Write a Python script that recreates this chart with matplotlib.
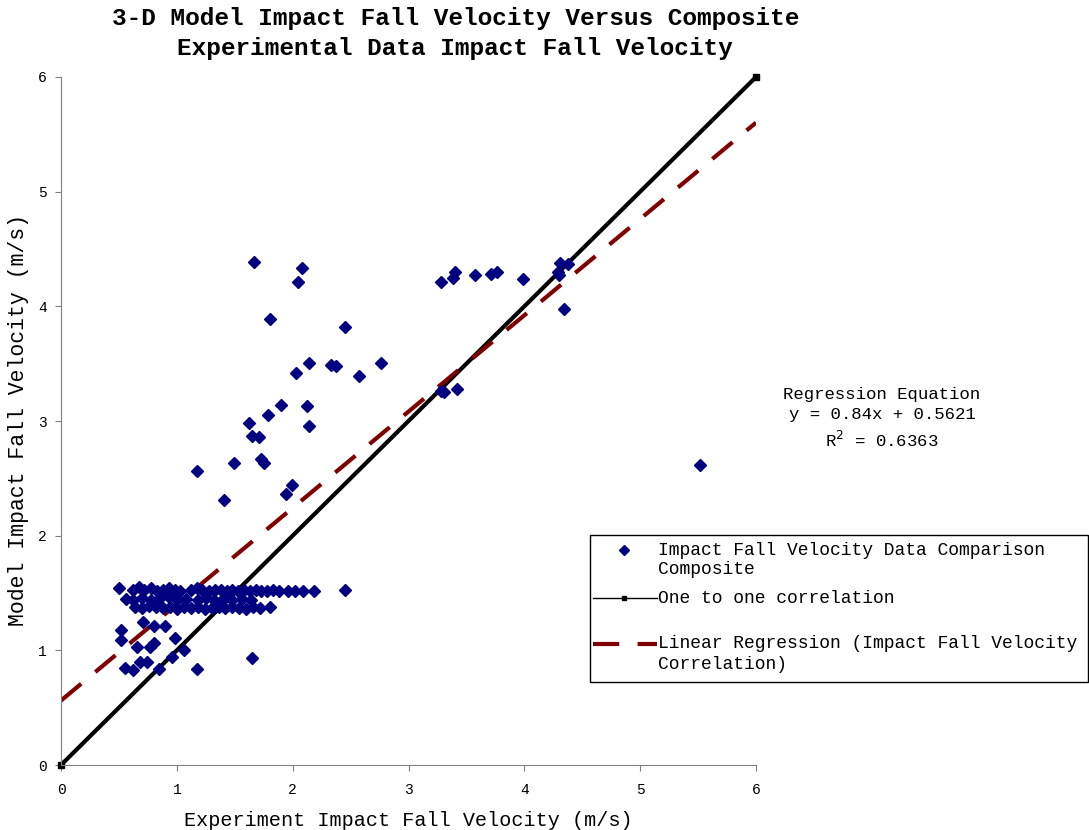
import matplotlib
matplotlib.use("Agg")
import matplotlib.pyplot as plt
from matplotlib.lines import Line2D
from matplotlib.patches import Rectangle

# --- data ---
# scattered points above the cluster
upper_x = [1.67, 2.08, 2.05, 1.80, 2.45, 2.14, 2.33, 2.37, 2.76, 2.03, 2.57,
           1.90, 2.12, 1.79, 1.62, 2.14, 1.65, 1.71, 1.73, 1.75, 1.49, 1.17,
           1.99, 1.94, 1.41]
upper_y = [4.39, 4.33, 4.21, 3.89, 3.82, 3.51, 3.49, 3.48, 3.51, 3.42, 3.39,
           3.14, 3.13, 3.05, 2.98, 2.96, 2.87, 2.86, 2.67, 2.63, 2.63, 2.56,
           2.44, 2.36, 2.31]

high_x = [3.28, 3.38, 3.40, 3.57, 3.71, 3.76, 3.99, 4.31, 4.38, 4.29, 4.30,
          4.34, 3.28, 3.31, 3.42, 5.52]
high_y = [4.21, 4.25, 4.30, 4.27, 4.28, 4.30, 4.24, 4.38, 4.37, 4.30, 4.27,
          3.98, 3.26, 3.25, 3.28, 2.62]

# the three dense rows near 1.4 - 1.55
rowa_x = [0.50, 0.62, 0.67, 0.72, 0.78, 0.83, 0.88, 0.93, 0.98, 1.03, 1.12,
          1.17, 1.22, 1.28, 1.33, 1.38, 1.43, 1.48, 1.53, 1.58, 1.63, 1.68,
          1.73, 1.78, 1.83, 1.88, 1.96, 2.02, 2.09, 2.18, 2.45]
rowa_y = [1.54, 1.53, 1.55, 1.53, 1.54, 1.52, 1.53, 1.54, 1.53, 1.52, 1.53,
          1.54, 1.53, 1.52, 1.53, 1.53, 1.52, 1.53, 1.52, 1.53, 1.52, 1.53,
          1.52, 1.52, 1.53, 1.52, 1.52, 1.52, 1.52, 1.52, 1.53]

rowb_x = [0.56, 0.62, 0.70, 0.78, 0.85, 0.92, 1.00, 1.08, 1.18, 1.25, 1.32,
          1.40, 1.48, 1.56, 1.64]
rowb_y = [1.45, 1.44, 1.46, 1.44, 1.45, 1.47, 1.44, 1.45, 1.44, 1.46, 1.44,
          1.45, 1.44, 1.45, 1.44]

rowc_x = [0.64, 0.70, 0.76, 0.82, 0.88, 0.94, 1.00, 1.06, 1.12, 1.18, 1.24,
          1.30, 1.36, 1.42, 1.48, 1.54, 1.60, 1.66, 1.72, 1.80]
rowc_y = [1.38, 1.37, 1.39, 1.38, 1.37, 1.38, 1.36, 1.38, 1.37, 1.38, 1.36,
          1.37, 1.38, 1.37, 1.38, 1.37, 1.36, 1.38, 1.37, 1.38]

# points below the cluster
low_x = [0.71, 0.80, 0.90, 0.52, 0.52, 0.98, 0.66, 0.77, 0.80, 1.06, 0.96,
         1.65, 0.55, 0.62, 0.68, 0.74, 0.85, 1.17]
low_y = [1.25, 1.21, 1.21, 1.18, 1.09, 1.11, 1.03, 1.03, 1.06, 1.00, 0.94,
         0.93, 0.85, 0.83, 0.90, 0.90, 0.84, 0.84]

pts_x = upper_x + high_x + rowa_x + rowb_x + rowc_x + low_x
pts_y = upper_y + high_y + rowa_y + rowb_y + rowc_y + low_y

one_x = [0, 6]
one_y = [0, 6]

slope = 0.84
intercept = 0.5621
reg_x = [0, 6]
reg_y = [intercept + slope * v for v in reg_x]

legend_labels = [["Impact Fall Velocity Data Comparison", "Composite"],
                 ["One to one correlation"],
                 ["Linear Regression (Impact Fall Velocity", "Correlation)"]]

plt.rcParams['font.family'] = ['Liberation Mono', 'DejaVu Sans Mono']

W, H = 1089, 830
fig = plt.figure(figsize=(W / 100, H / 100), dpi=100)
ax = fig.add_axes([61 / W, 1 - 765 / H, 695 / W, 688 / H])


def fx(px):
    return px / W


def fy(py):
    return 1 - py / H


ax.plot(pts_x, pts_y, linestyle='none', marker='D', ms=6.6,
        color='#000080', zorder=3)
ax.plot(one_x, one_y, color='black', lw=3, marker='s', ms=4,
        clip_on=False, zorder=2)
ax.plot(reg_x, reg_y, color='#800000', lw=3, dashes=(6.3, 4.4), zorder=2)

ax.set_xlim(0, 6)
ax.set_ylim(0, 6)
ax.set_xticks(range(7))
ax.set_yticks(range(7))
for s in ['top', 'right']:
    ax.spines[s].set_visible(False)
for s in ['left', 'bottom']:
    ax.spines[s].set_color('#808080')
ax.tick_params(colors='#808080', labelcolor='black', labelsize=10.5,
               length=4, direction='out')
ax.tick_params(axis='x', pad=9)
ax.tick_params(axis='y', pad=6)

ax.set_xlabel("Experiment Impact Fall Velocity (m/s)", fontsize=14.5, labelpad=10)
ax.set_ylabel("Model Impact Fall Velocity (m/s)", fontsize=15.5)
ax.yaxis.set_label_coords(fx(29), fy(420), transform=fig.transFigure)

fig.text(0.418, fy(18), "3-D Model Impact Fall Velocity Versus Composite",
         ha='center', va='center', fontsize=17.6, fontweight='bold')
fig.text(0.418, fy(48), "Experimental Data Impact Fall Velocity",
         ha='center', va='center', fontsize=17.6, fontweight='bold')

fig.text(fx(882), fy(394), "Regression Equation", ha='center', va='center',
         fontsize=12.5)
fig.text(fx(882), fy(414), "y = 0.84x + 0.5621", ha='center', va='center',
         fontsize=12.5)
fig.text(fx(882), fy(440), "R$^2$ = 0.6363", ha='center', va='center',
         fontsize=12.5, math_fontfamily='dejavusans')

# legend drawn by hand, Excel style (handle level with first text line)
fig.add_artist(Rectangle((fx(590), fy(682)), fx(1088) - fx(590),
                         fy(535) - fy(682), transform=fig.transFigure,
                         facecolor='white', edgecolor='black', lw=1))
fig.add_artist(Line2D([fx(624)], [fy(550)], linestyle='none', marker='D',
                      ms=4.8, color='#000080', transform=fig.transFigure))
fig.add_artist(Line2D([fx(593), fx(657)], [fy(598), fy(598)], color='black',
                      lw=1, transform=fig.transFigure))
fig.add_artist(Line2D([fx(624)], [fy(598)], linestyle='none', marker='s',
                      ms=3, color='black', transform=fig.transFigure))
fig.add_artist(Line2D([fx(593), fx(657)], [fy(644), fy(644)], color='#800000',
                      lw=3, dashes=(6.3, 4.4), transform=fig.transFigure))
rows = [550, 598, 644]
for top, lines in zip(rows, legend_labels):
    for i, t in enumerate(lines):
        fig.text(fx(658), fy(top + 20 * i), t, ha='left', va='center',
                 fontsize=13)

fig.savefig("out.png", dpi=100)
